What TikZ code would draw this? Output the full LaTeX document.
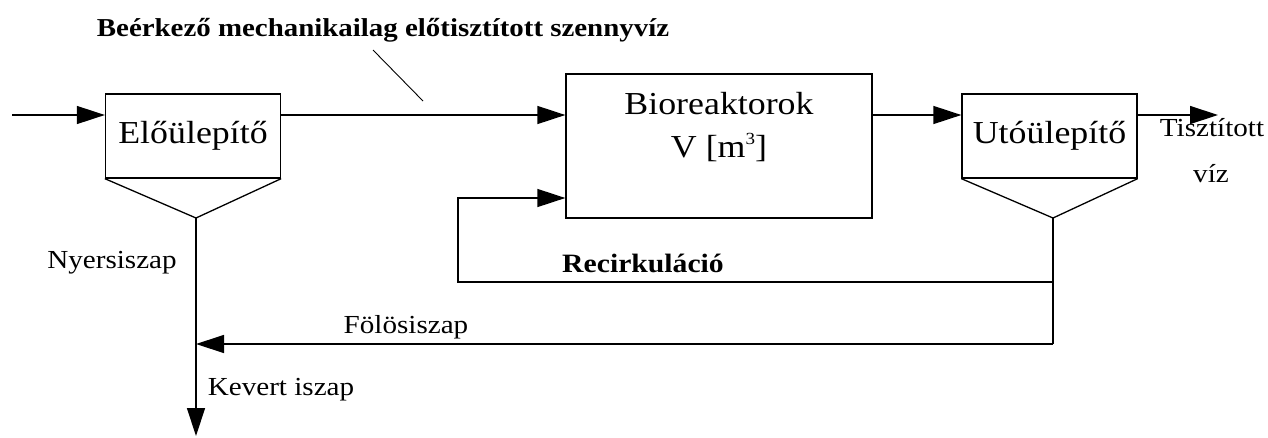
\documentclass[tikz,border=0pt]{standalone}
\usepackage{fontspec}
\setmainfont{Liberation Serif}[FakeStretch=1.12]
\usetikzlibrary{arrows.meta}

\tikzset{
  unit/.style={draw, line width=1.3pt, inner sep=0pt, fill=white},
  settler/.style={unit, minimum width=175pt, minimum height=84pt,
                  font=\fontsize{32}{38}\selectfont},
  unittext/.style={inner sep=0pt, anchor=base, font=\fontsize{32}{38}\selectfont},
  pipe/.style={line width=1.3pt},
  flow/.style={pipe, -{Triangle[length=28pt,width=18pt]}},
  lbl/.style={inner sep=0pt, anchor=base, font=\fontsize{26}{30}\selectfont},
  boldlbl/.style={lbl, font=\fontsize{26.5}{30}\selectfont\bfseries},
}

\begin{document}
\begin{tikzpicture}[x=1pt, y=-1pt]
  \useasboundingbox (0,0) rectangle (1268,437);

  % process units
  \node[settler] (pre)  at (193,136)    {Előülepítő};
  \node[unit, minimum width=306pt, minimum height=144pt] (bio) at (719,146) {};
  \node[unittext] (bioname) at (719,114) {Bioreaktorok};
  \node[unittext] (biovol)  at (719,157)
    {V [m\raisebox{13pt}{\fontsize{17}{17}\selectfont 3}]};
  \node[settler] (post) at (1049.5,136) {Utóülepítő};

  % key points of the piping
  \coordinate (in)      at (12,115);
  \coordinate (out)     at (1218,115);
  \coordinate (preapex) at (196,218);
  \coordinate (postapex) at (1053,218);
  \coordinate (mix)     at (196,436);
  \coordinate (split)   at (1053,282);
  \coordinate (waste)   at (1053,344);
  \coordinate (rc)      at (458,282);
  \coordinate (rcup)    at (458,198);

  % settler hoppers
  \draw[pipe] (pre.south west) -- (preapex) -- (pre.south east);
  \draw[pipe] (post.south west) -- (postapex) -- (post.south east);

  % water line
  \draw[flow] (in) -- (in -| pre.west);
  \draw[flow] (pre.east |- in) -- (bio.west |- in);
  \draw[flow] (bio.east |- in) -- (post.west |- in);
  \draw[flow] (post.east |- in) -- (out);

  % sludge lines
  \draw[flow] (preapex) -- (mix);
  \draw[pipe] (postapex) -- (waste);
  \draw[flow] (split) -- (rc) -- (rcup) -- (rcup -| bio.west);
  \draw[flow] (waste) -- (waste -| preapex);

  % labels
  \node[boldlbl, font=\fontsize{25.8}{30}\selectfont\bfseries] (title) at (383,36)
    {Beérkező mechanikailag előtisztított szennyvíz};
  \coordinate (ptrtop) at (373,50);
  \coordinate (ptrend) at (423,101);
  \draw[line width=0.9pt] (ptrtop) -- (ptrend);

  \node[lbl] (raw)   at (112,268)  {Nyersiszap};
  \node[boldlbl] (recirc) at (643,272) {Recirkuláció};
  \node[lbl] (excess) at (406,333) {Fölösiszap};
  \node[lbl] (mixed) at (281,395)  {Kevert iszap};
  \node[lbl] (clean1) at (1212,136) {Tisztított};
  \node[lbl] (clean2) at (1211,182) {víz};
\end{tikzpicture}
\end{document}
